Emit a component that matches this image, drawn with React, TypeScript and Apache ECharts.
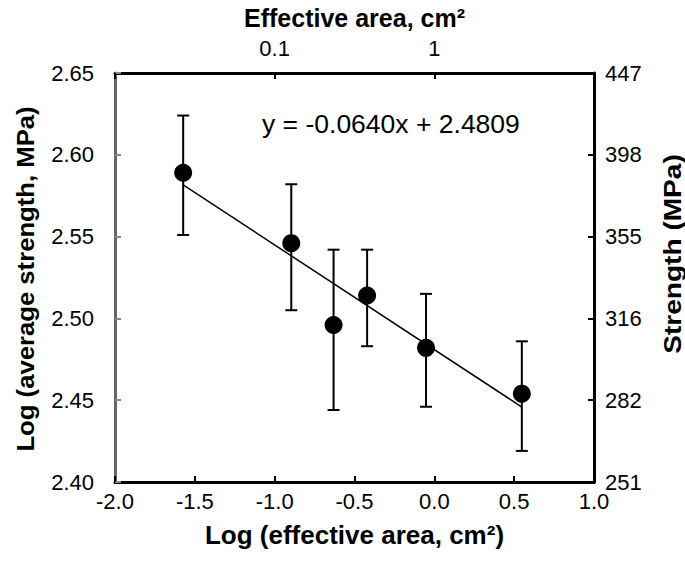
import React, { useEffect, useRef } from "react";
import * as echarts from "echarts";

const logArea = [-1.573, -0.896, -0.631, -0.421, -0.052, 0.548];
const logStrength = [2.589, 2.546, 2.496, 2.514, 2.482, 2.454];
const errUpper = [2.624, 2.582, 2.542, 2.542, 2.515, 2.486];
const errLower = [2.551, 2.505, 2.444, 2.483, 2.446, 2.419];
const slope = -0.064;
const intercept = 2.4809;
const equationText = "y = -0.0640x + 2.4809";
const topTickLabels: Record<string, string> = { "-1": "0.1", "0": "1" };
const leftTitle = "Log (average strength, MPa)";
const rightTitle = "Strength (MPa)";

const FONT = "'Liberation Sans', Arial, sans-serif";

export default function App() {
  const ref = useRef<HTMLDivElement>(null);
  useEffect(() => {
    if (!ref.current) return;
    const chart = echarts.init(ref.current, null, { renderer: "svg" });
    const xMin = Math.min(...logArea);
    const xMax = Math.max(...logArea);
    const trend = [
      [xMin, intercept + slope * xMin],
      [xMax, intercept + slope * xMax],
    ];
    const errData = logArea.map((x, i) => [x, errLower[i], errUpper[i]]);
    const pts = logArea.map((x, i) => [x, logStrength[i]]);
    const tickLabel = { color: "#000", fontSize: 22, fontFamily: FONT };
    const nameStyle = (size: number) => ({
      color: "#000",
      fontSize: size,
      fontWeight: "bold" as const,
      fontFamily: FONT,
    });
    chart.setOption({
      animation: false,
      grid: {
        left: 115,
        right: 91,
        top: 73,
        bottom: 82,
        containLabel: false,
        outerBoundsMode: "none",
      },
      xAxis: [
        {
          type: "value",
          position: "bottom",
          min: -2,
          max: 1,
          interval: 0.5,
          name: "Log (effective area, cm²)",
          nameLocation: "middle",
          nameGap: 40,
          nameTextStyle: nameStyle(26),
          axisLine: { show: true, onZero: false, lineStyle: { color: "#000", width: 3 } },
          axisTick: { show: true, inside: true, length: 6, lineStyle: { color: "#000", width: 2 } },
          axisLabel: { ...tickLabel, margin: 8, formatter: (v: number) => v.toFixed(1) },
          splitLine: { show: false },
        },
        {
          type: "value",
          position: "top",
          min: -2,
          max: 1,
          interval: 1,
          name: "Effective area, cm²",
          nameLocation: "middle",
          nameGap: 43,
          nameTextStyle: nameStyle(25),
          axisLine: { show: true, onZero: false, lineStyle: { color: "#000", width: 3 } },
          axisTick: { show: true, inside: true, length: 6, lineStyle: { color: "#000", width: 2 } },
          axisLabel: {
            ...tickLabel,
            margin: 14,
            formatter: (v: number) => topTickLabels[String(Math.round(v))] ?? "",
          },
          splitLine: { show: false },
        },
      ],
      yAxis: [
        {
          type: "value",
          position: "left",
          min: 2.4,
          max: 2.65,
          interval: 0.05,
          axisLine: { show: true, onZero: false, lineStyle: { color: "#666", width: 3 } },
          axisTick: { show: true, inside: true, length: 6, lineStyle: { color: "#888", width: 2 } },
          axisLabel: { ...tickLabel, margin: 21, formatter: (v: number) => v.toFixed(2) },
          splitLine: { show: false },
        },
        {
          type: "value",
          position: "right",
          min: 2.4,
          max: 2.65,
          interval: 0.05,
          axisLine: { show: true, onZero: false, lineStyle: { color: "#000", width: 3 } },
          axisTick: { show: true, inside: true, length: 6, lineStyle: { color: "#000", width: 2 } },
          axisLabel: {
            ...tickLabel,
            margin: 11,
            formatter: (v: number) => String(Math.round(Math.pow(10, v))),
          },
          splitLine: { show: false },
        },
      ],
      series: [
        {
          type: "custom",
          xAxisIndex: 0,
          yAxisIndex: 0,
          data: errData,
          z: 2,
          renderItem: (params: any, api: any) => {
            const x = api.value(0);
            const lo = api.coord([x, api.value(1)]);
            const hi = api.coord([x, api.value(2)]);
            const hw = 6;
            const style = { stroke: "#000", lineWidth: 2 };
            return {
              type: "group",
              children: [
                { type: "line", shape: { x1: lo[0], y1: lo[1], x2: hi[0], y2: hi[1] }, style },
                { type: "line", shape: { x1: lo[0] - hw, y1: lo[1], x2: lo[0] + hw, y2: lo[1] }, style },
                { type: "line", shape: { x1: hi[0] - hw, y1: hi[1], x2: hi[0] + hw, y2: hi[1] }, style },
              ],
            };
          },
        },
        {
          type: "line",
          xAxisIndex: 0,
          yAxisIndex: 0,
          data: trend,
          symbol: "none",
          z: 3,
          lineStyle: { color: "#000", width: 1.5 },
        },
        {
          type: "scatter",
          xAxisIndex: 0,
          yAxisIndex: 0,
          data: pts,
          symbol: "circle",
          symbolSize: 18,
          z: 4,
          itemStyle: { color: "#000", opacity: 1 },
        },
      ],
      graphic: [
        {
          type: "text",
          left: 262,
          top: 110,
          style: { text: equationText, fill: "#000", fontSize: 26.5, fontFamily: FONT },
        },
        {
          type: "text",
          x: 26,
          y: 279,
          rotation: Math.PI / 2,
          scaleX: 1.07,
          style: {
            text: leftTitle,
            fill: "#000",
            fontSize: 24,
            fontWeight: "bold",
            fontFamily: FONT,
            align: "center",
            verticalAlign: "middle",
          },
        },
        {
          type: "text",
          x: 673,
          y: 254,
          rotation: Math.PI / 2,
          scaleX: 1.22,
          style: {
            text: rightTitle,
            fill: "#000",
            fontSize: 23,
            fontWeight: "bold",
            fontFamily: FONT,
            align: "center",
            verticalAlign: "middle",
          },
        },
      ],
    });
    return () => chart.dispose();
  }, []);
  return (
    <div
      ref={ref}
      style={{ position: "fixed", left: 0, top: 0, width: 685, height: 564, background: "#fff" }}
    />
  );
}
